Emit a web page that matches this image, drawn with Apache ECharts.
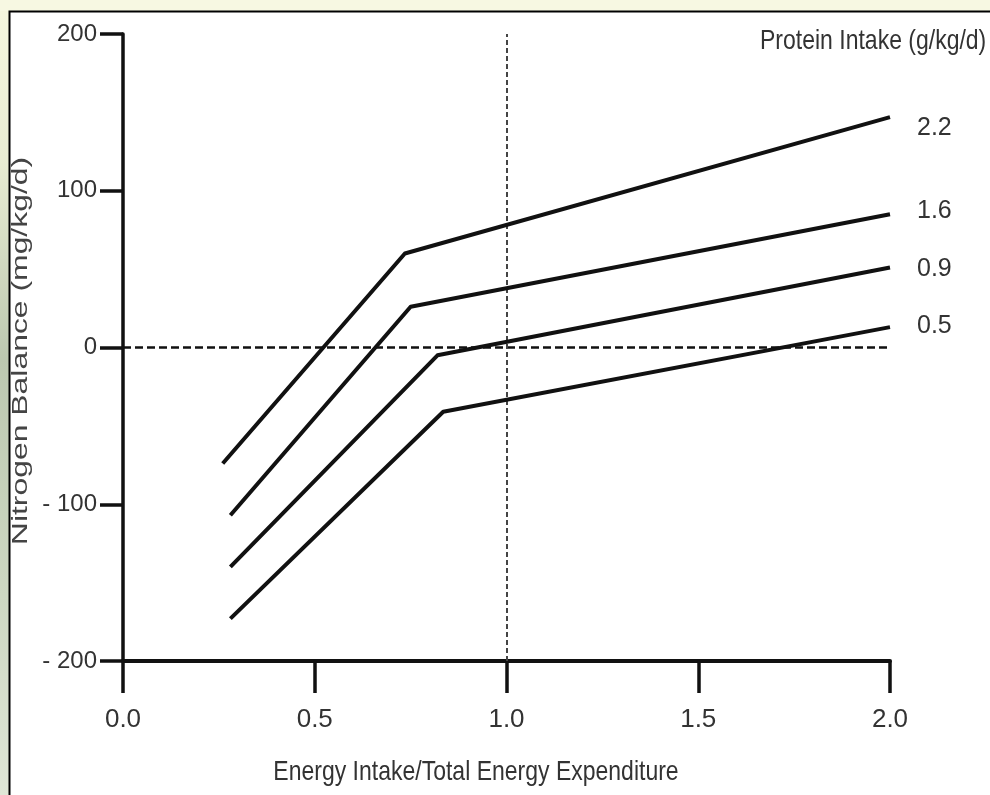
<!DOCTYPE html>
<html>
<head>
<meta charset="utf-8">
<title>Nitrogen Balance vs Energy Intake</title>
<script src="https://cdn.jsdelivr.net/npm/echarts@6/dist/echarts.min.js"></script>
<style>
  html, body { margin: 0; padding: 0; background: #ffffff; }
  #chart { width: 990px; height: 795px; }
</style>
</head>
<body>
<div id="chart"></div>
<script>
// Energy intake / total energy expenditure at the start, break and end of each line
const protein22X = [0.26, 0.735, 2.0];
const protein22Y = [-74, 60, 147];
const protein16X = [0.28, 0.75, 2.0];
const protein16Y = [-107, 26, 85];
const protein09X = [0.28, 0.82, 2.0];
const protein09Y = [-140, -5, 51];
const protein05X = [0.28, 0.835, 2.0];
const protein05Y = [-173, -41, 13];

const seriesNames = ['2.2', '1.6', '0.9', '0.5'];
const xTicks = [0, 0.5, 1.0, 1.5, 2.0];
const yTicks = [-200, -100, 0, 100, 200];

const sans = "'Liberation Sans', Arial, Helvetica, sans-serif";
const ink = '#111111';
const textInk = '#333333';

function pairs(xs, ys) {
  return xs.map((x, i) => [x, ys[i]]);
}

const lineData = [
  pairs(protein22X, protein22Y),
  pairs(protein16X, protein16Y),
  pairs(protein09X, protein09Y),
  pairs(protein05X, protein05Y)
];
// vertical nudges so the end labels sit where the figure places them
const labelNudge = [11, -3, 2, -1];

const chart = echarts.init(document.getElementById('chart'), null, { renderer: 'canvas' });

const series = lineData.map((data, i) => ({
  name: seriesNames[i],
  type: 'line',
  data: data,
  symbol: 'none',
  z: 5,
  lineStyle: { color: ink, width: 4, join: 'round', cap: 'butt' },
  endLabel: {
    show: true,
    formatter: seriesNames[i],
    distance: 27,
    offset: [0, labelNudge[i]],
    color: textInk,
    fontFamily: sans,
    fontSize: 25
  },
  animation: false
}));

// reference lines: zero balance and intake equal to expenditure
series.push({
  name: 'reference',
  type: 'line',
  data: [],
  symbol: 'none',
  z: 3,
  markLine: {
    silent: true,
    symbol: ['none', 'none'],
    label: { show: false },
    animation: false,
    data: [
      { yAxis: 0, lineStyle: { color: '#111111', width: 2.5, type: [8, 4] } },
      { xAxis: 1.0, lineStyle: { color: '#444444', width: 2, type: [5, 3] } }
    ]
  }
});

// slightly tall lettering, as in the printed figure
function tallText(text, x, y, size, align, scaleY, fill) {
  return {
    type: 'text', z: 10, silent: true,
    x: x, y: y,
    scaleY: scaleY,
    style: {
      text: text,
      font: size + 'px ' + sans,
      fill: fill,
      textAlign: align, align: align,
      textVerticalAlign: 'middle', verticalAlign: 'middle'
    }
  };
}

const option = {
  animation: false,
  backgroundColor: 'transparent',
  graphic: [
    {
      type: 'rect', z: -10, silent: true,
      shape: { x: 0, y: 0, width: 990, height: 795 },
      style: {
        fill: new echarts.graphic.LinearGradient(0, 0, 0, 1, [
          { offset: 0, color: '#f6f7df' },
          { offset: 0.2, color: '#e9edd3' },
          { offset: 0.45, color: '#bcc8b0' },
          { offset: 0.75, color: '#cdd7c2' },
          { offset: 1, color: '#dfe6d6' }
        ])
      }
    },
    {
      type: 'rect', z: -10, silent: true,
      shape: { x: 0, y: 0, width: 990, height: 11 },
      style: { fill: '#f7f8e2' }
    },
    {
      type: 'rect', z: -9, silent: true,
      shape: { x: 9.5, y: 11.5, width: 990, height: 800 },
      style: { fill: '#ffffff', stroke: '#000000', lineWidth: 2 }
    },
    {
      type: 'text', z: 10, silent: true,
      x: 21, y: 351,
      rotation: Math.PI / 2,
      scaleX: 1.45,
      style: {
        text: 'Nitrogen Balance (mg/kg/d)',
        font: '22px ' + sans,
        fill: '#444444',
        textAlign: 'center', align: 'center',
        textVerticalAlign: 'middle', verticalAlign: 'middle'
      }
    },
    tallText('Protein Intake (g/kg/d)', 760, 41, 23, 'left', 1.2, textInk),
    tallText('Energy Intake/Total Energy Expenditure', 476, 772, 23, 'center', 1.2, textInk)
  ],
  grid: { left: 123, right: 100, top: 34, bottom: 134, containLabel: false },
  xAxis: {
    type: 'value',
    min: 0, max: 2, interval: 0.5,
    axisLine: { onZero: false, lineStyle: { color: ink, width: 4 } },
    axisTick: { length: 32, lineStyle: { color: ink, width: 3.5 } },
    axisLabel: {
      margin: 46,
      color: textInk, fontFamily: sans, fontSize: 26,
      formatter: v => v.toFixed(1),
      customValues: xTicks
    },
    splitLine: { show: false }
  },
  yAxis: {
    type: 'value',
    min: -200, max: 200, interval: 100,
    axisLine: { onZero: false, lineStyle: { color: ink, width: 3.5 } },
    axisTick: { length: 23, lineStyle: { color: ink, width: 3.5 } },
    axisLabel: {
      margin: 26,
      color: textInk, fontFamily: sans, fontSize: 24,
      formatter: v => (v < 0 ? '- ' + Math.abs(v) : String(v)),
      customValues: yTicks
    },
    splitLine: { show: false }
  },
  series: series
};

chart.setOption(option);
</script>
</body>
</html>
